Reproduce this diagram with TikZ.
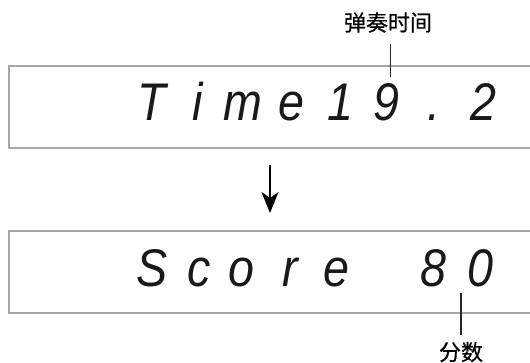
\documentclass[tikz,border=0pt]{standalone}
\usepackage{fontspec}
\setmainfont{Liberation Sans}[FakeStretch=0.88]
\newfontfamily\cjk{Noto Sans CJK SC}[FakeBold=0.6]
\usetikzlibrary{arrows.meta}
\tikzset{
  lcdbox/.style={draw=black!35, line width=2pt},
  ch/.style={anchor=base, inner sep=0pt, font=\fontsize{53}{60}\selectfont\itshape, text=black!90},
  lbl/.style={inner sep=0pt, font=\cjk\fontsize{22}{24}\selectfont},
  leader/.style={draw=black!85, line width=1.6pt},
  flow/.style={draw=black, line width=2pt, -{Stealth[length=21pt,width=17pt,inset=6pt]}}
}
\begin{document}
\begin{tikzpicture}[x=1pt,y=-1pt]
\useasboundingbox (0,0) rectangle (530,363);
% boxes (open to the right)
\draw[lcdbox] (531,66) -- (9,66) -- (9,148) -- (531,148);
\draw[lcdbox] (531,231) -- (9,231) -- (9,313) -- (531,313);
% top display
\node[ch] (t1) at (152,121) {T};
\node[ch] (t2) at (198,121) {i};
\node[ch] (t3) at (243,121) {m};
\node[ch] (t4) at (291,121) {e};
\node[ch] (t5) at (340,121) {1};
\node[ch] (t6) at (386,121) {9};
\node[ch] (t7) at (434,121) {.};
\node[ch] (t8) at (483,121) {2};
% bottom display
\node[ch] (s1) at (152,287) {S};
\node[ch] (s2) at (199,287) {c};
\node[ch] (s3) at (241,287) {o};
\node[ch] (s4) at (290,287) {r};
\node[ch] (s5) at (336,287) {e};
\node[ch] (s6) at (433,287) {8};
\node[ch] (s7) at (480,287) {0};
% labels and leaders
\node[lbl] (lab1) at (388,22.5) {弹奏时间};
\coordinate (l1a) at (390.5,44);
\coordinate (l1b) at (390.5,77);
\draw[leader] (l1a) -- (l1b);
\node[lbl] (lab2) at (461,352) {分数};
\coordinate (l2a) at (461,293);
\coordinate (l2b) at (461,335);
\draw[leader] (l2a) -- (l2b);
% arrow
\coordinate (a1) at (270,165);
\coordinate (a2) at (270,213);
\draw[flow] (a1) -- (a2);
\end{tikzpicture}
\end{document}
